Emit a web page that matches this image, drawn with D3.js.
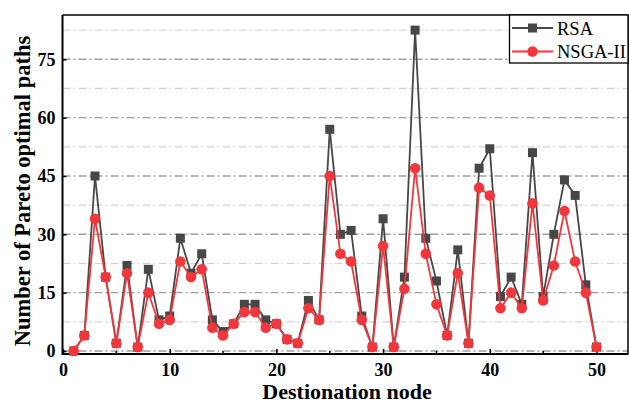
<!DOCTYPE html>
<html><head><meta charset="utf-8">
<script src="https://cdn.jsdelivr.net/npm/d3@7"></script>
<style>body{margin:0;background:#fff}svg{display:block}</style>
</head><body>
<script>
const nodes = d3.range(1, 51);
const rsa = [0,4,45,19,2,22,1,21,8,9,29,20,25,8,5,7,12,12,8,7,3,2,13,8,57,30,31,9,1,34,1,19,82.5,29,18,4,26,2,47,52,14,19,12,51,14,30,44,40,17,1];
const nsga = [0,4,34,19,2,20,1,15,7,8,23,19,21,6,4,7,10,10,6,7,3,2,11,8,45,25,23,8,1,27,1,16,47,25,12,4,20,2,42,40,11,15,11,38,13,22,36,23,15,1];
const xTicks = [0,10,20,30,40,50];
const yTicks = [0,15,30,45,60,75];
const yMinor = [7.5,22.5,37.5,52.5,67.5,82.5];
const seriesNames = ["RSA","NSGA-II"];

const W=629,H=402;
const L=62.5,R=628,T=15,B=354;
const svg=d3.select("body").append("svg").attr("width",W).attr("height",H);
const x=d3.scaleLinear().domain([0,53]).range([63,628.5]);
const y=d3.scaleLinear().domain([0,75]).range([351,59.3]);

const font="'Liberation Serif','Times New Roman',serif";
// grid
svg.append("g").selectAll("line").data(yMinor).join("line")
  .attr("x1",L).attr("x2",R).attr("y1",d=>y(d)).attr("y2",d=>y(d))
  .attr("stroke","#d4d4d4").attr("stroke-width",1.2).attr("stroke-dasharray","8,3,2,3");
svg.append("g").selectAll("line").data(yTicks).join("line")
  .attr("x1",L).attr("x2",R).attr("y1",d=>y(d)).attr("y2",d=>y(d))
  .attr("stroke","#a0a0a0").attr("stroke-width",1.4).attr("stroke-dasharray","8,3,2,3");

// frame
svg.append("path").attr("d",`M${L},${T}H${R}V${B}`).attr("fill","none").attr("stroke","#000").attr("stroke-width",1.5);

// axes
const xAxis=d3.axisBottom(x).tickValues(xTicks).tickSize(-5).tickPadding(9).tickFormat(d3.format("d"));
const gx=svg.append("g").attr("transform",`translate(0,${B})`).call(xAxis);
gx.select(".domain").remove();
gx.selectAll(".tick line").attr("stroke","#000").attr("stroke-width",1.5);
gx.selectAll("text").attr("font-family",font).attr("font-weight","bold").attr("font-size",18).attr("fill","#000");
svg.append("g").attr("transform",`translate(0,${B})`).selectAll("line").data([5,15,25,35,45]).join("line")
  .attr("x1",d=>x(d)).attr("x2",d=>x(d)).attr("y1",0).attr("y2",-3).attr("stroke","#000").attr("stroke-width",1.5);

const yAxis=d3.axisLeft(y).tickValues(yTicks).tickSize(-4).tickPadding(7).tickFormat(d3.format("d"));
const gy=svg.append("g").attr("transform",`translate(${L},0)`).call(yAxis);
gy.select(".domain").remove();
gy.selectAll(".tick line").attr("stroke","#000").attr("stroke-width",1.5);
gy.selectAll("text").attr("font-family",font).attr("font-weight","bold").attr("font-size",18).attr("fill","#000");

svg.append("line").attr("x1",L).attr("x2",R+0.5).attr("y1",B).attr("y2",B).attr("stroke","#000").attr("stroke-width",2);
svg.append("line").attr("x1",L).attr("x2",L).attr("y1",T).attr("y2",B+1).attr("stroke","#000").attr("stroke-width",2);

// series
const colors=["#474747","#f2373c"];
const data=[rsa,nsga];
const line=d3.line().x((d,i)=>x(nodes[i])).y(d=>y(d));
data.forEach((s,k)=>{
  svg.append("path").datum(s).attr("d",line).attr("fill","none").attr("stroke",colors[k]).attr("stroke-width",1.8);
  const g=svg.append("g");
  if(k===0){
    g.selectAll("rect").data(s).join("rect")
      .attr("x",(d,i)=>x(nodes[i])-4.5).attr("y",d=>y(d)-4.5).attr("width",9).attr("height",9).attr("fill",colors[k]);
  } else {
    g.selectAll("circle").data(s).join("circle")
      .attr("cx",(d,i)=>x(nodes[i])).attr("cy",d=>y(d)).attr("r",5.3).attr("fill",colors[k]);
  }
});

// legend
const lg=svg.append("g");
lg.append("rect").attr("x",509.5).attr("y",T).attr("width",R-509.5).attr("height",48).attr("fill","#fff").attr("stroke","#000").attr("stroke-width",1.3);
seriesNames.forEach((n,k)=>{
  const yy=28+k*23.5;
  lg.append("line").attr("x1",512).attr("x2",553).attr("y1",yy).attr("y2",yy).attr("stroke",colors[k]).attr("stroke-width",1.8);
  if(k===0) lg.append("rect").attr("x",532.5-4.5).attr("y",yy-4.5).attr("width",9).attr("height",9).attr("fill",colors[k]);
  else lg.append("circle").attr("cx",532.5).attr("cy",yy).attr("r",5.3).attr("fill",colors[k]);
  lg.append("text").attr("x",557).attr("y",yy+6.5).attr("font-family",font).attr("font-size",18.5).attr("fill","#000").text(n);
});

// titles
svg.append("text").attr("x",347).attr("y",398.5).attr("text-anchor","middle").attr("font-family",font).attr("font-weight","bold").attr("font-size",22).text("Destionation node");
svg.append("text").attr("transform","translate(30,191) rotate(-90)").attr("text-anchor","middle").attr("font-family",font).attr("font-weight","bold").attr("font-size",22.5).text("Number of Pareto optimal paths");
</script>
</body></html>
